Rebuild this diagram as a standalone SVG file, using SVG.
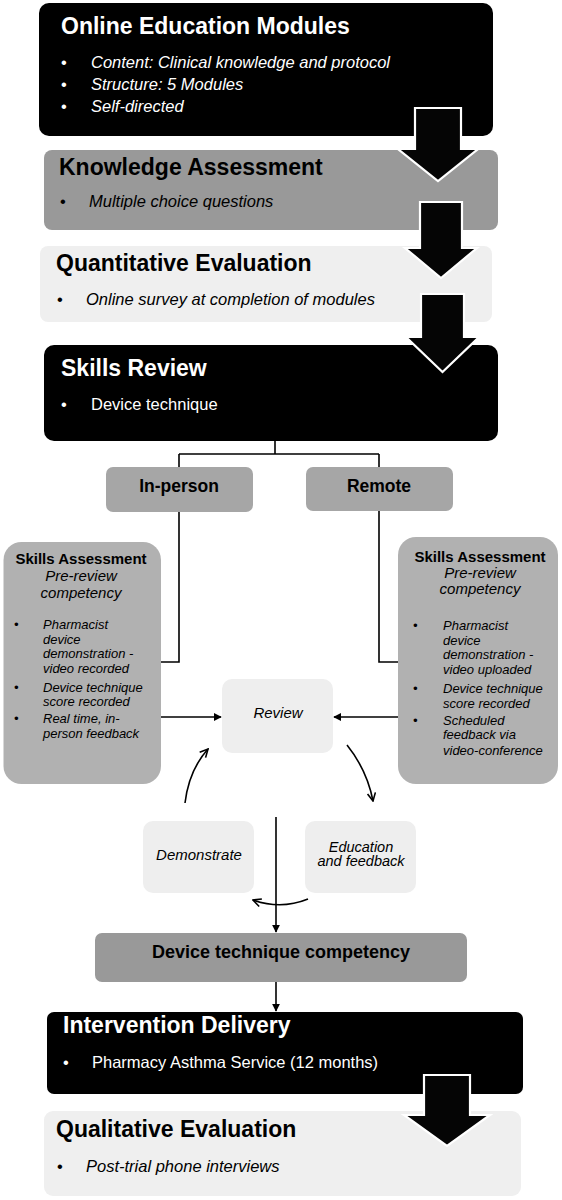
<svg xmlns="http://www.w3.org/2000/svg" width="562" height="1200" viewBox="0 0 562 1200">
<defs>
<style>
text{font-family:"Liberation Sans",Arial,sans-serif;}
.t{font-size:23px;font-weight:bold;}
.b{font-size:16.5px;font-style:italic;}
.r{font-size:16.5px;}
.w{fill:#fff;}
.k{fill:#000;}
.sb{font-size:15px;font-weight:bold;}
.si{font-size:15px;font-style:italic;}
.s{font-size:13px;font-style:italic;}
.lab{font-size:17.5px;font-weight:bold;}
.ln{fill:none;stroke:#000;stroke-width:1.6;}
.blk{fill:#050505;stroke:#fff;stroke-width:2.2;stroke-linejoin:miter;}
</style>
<marker id="tri" viewBox="0 0 10 10" refX="9" refY="5" markerWidth="8" markerHeight="8" markerUnits="userSpaceOnUse" orient="auto">
<path d="M0,0 L10,5 L0,10 z" fill="#000"/>
</marker>
<marker id="open" viewBox="0 0 10 10" refX="9" refY="5" markerWidth="10" markerHeight="10" markerUnits="userSpaceOnUse" orient="auto">
<path d="M1,1 L9,5 L1,9" fill="none" stroke="#000" stroke-width="1.6"/>
</marker>
</defs>
<rect width="562" height="1200" fill="#fff"/>

<g id="online-education">
<rect x="39" y="3" width="454" height="133" rx="10" fill="#000"/>
<text class="t w" x="61" y="34">Online Education Modules</text>
<text class="r w" x="61" y="68">•</text><text class="b w" x="91" y="68">Content: Clinical knowledge and protocol</text>
<text class="r w" x="61" y="90">•</text><text class="b w" x="91" y="90">Structure: 5 Modules</text>
<text class="r w" x="61" y="112">•</text><text class="b w" x="91" y="112">Self-directed</text>
</g>

<g id="knowledge-assessment">
<rect x="44" y="150" width="454" height="80" rx="8" fill="#999"/>
<text class="t k" x="59" y="175">Knowledge Assessment</text>
<text class="r k" x="60" y="207">•</text><text class="b k" x="89" y="207">Multiple choice questions</text>
</g>

<g id="quantitative-evaluation">
<rect x="40" y="246" width="452" height="76" rx="8" fill="#efefef"/>
<text class="t k" x="56" y="271">Quantitative Evaluation</text>
<text class="r k" x="57" y="305">•</text><text class="b k" x="86" y="305">Online survey at completion of modules</text>
</g>

<g id="skills-review">
<rect x="44" y="345" width="454" height="96" rx="10" fill="#000"/>
<text class="t w" x="61" y="376">Skills Review</text>
<text class="r w" x="61" y="410">•</text><text class="r w" x="91" y="410">Device technique</text>
</g>

<g id="in-person">
<rect x="106" y="467" width="147" height="45" rx="7" fill="#a6a6a6"/>
<text class="lab k" x="179" y="492" text-anchor="middle">In-person</text>
</g>

<g id="remote">
<rect x="306" y="467" width="147" height="44" rx="7" fill="#a6a6a6"/>
<text class="lab k" x="379" y="492" text-anchor="middle">Remote</text>
</g>

<g id="skills-assessment-left">
<rect x="3.5" y="542" width="157.5" height="242" rx="18" fill="#b1b1b1"/>
<text class="sb k" x="81" y="564" text-anchor="middle">Skills Assessment</text>
<text class="si k" x="81" y="581" text-anchor="middle">Pre-review</text>
<text class="si k" x="81" y="598" text-anchor="middle">competency</text>
<text class="s k" x="14" y="629">•</text><text class="s k" x="43" y="629">Pharmacist</text>
<text class="s k" x="43" y="644">device</text>
<text class="s k" x="43" y="658">demonstration -</text>
<text class="s k" x="43" y="673">video recorded</text>
<text class="s k" x="14" y="692">•</text><text class="s k" x="43" y="692">Device technique</text>
<text class="s k" x="43" y="706">score recorded</text>
<text class="s k" x="14" y="723">•</text><text class="s k" x="43" y="723">Real time, in-</text>
<text class="s k" x="43" y="738">person feedback</text>
</g>

<g id="skills-assessment-right">
<rect x="398" y="537" width="160" height="247" rx="18" fill="#b1b1b1"/>
<text class="sb k" x="480" y="562" text-anchor="middle">Skills Assessment</text>
<text class="si k" x="480" y="578" text-anchor="middle">Pre-review</text>
<text class="si k" x="480" y="594" text-anchor="middle">competency</text>
<text class="s k" x="413" y="630">•</text><text class="s k" x="443" y="630">Pharmacist</text>
<text class="s k" x="443" y="645">device</text>
<text class="s k" x="443" y="659">demonstration -</text>
<text class="s k" x="443" y="674">video uploaded</text>
<text class="s k" x="413" y="693">•</text><text class="s k" x="443" y="693">Device technique</text>
<text class="s k" x="443" y="708">score recorded</text>
<text class="s k" x="413" y="725">•</text><text class="s k" x="443" y="725">Scheduled</text>
<text class="s k" x="443" y="739">feedback via</text>
<text class="s k" x="443" y="755">video-conference</text>
</g>

<g id="review">
<rect x="222" y="679" width="111" height="74" rx="10" fill="#eeeeee"/>
<text class="si k" x="278" y="718" text-anchor="middle">Review</text>
</g>

<g id="demonstrate">
<rect x="143" y="821" width="111" height="72" rx="10" fill="#eeeeee"/>
<text class="si k" x="199" y="860" text-anchor="middle">Demonstrate</text>
</g>

<g id="education-feedback">
<rect x="305" y="821" width="111" height="72" rx="10" fill="#eeeeee"/>
<text class="si k" x="361" y="852" text-anchor="middle" style="font-size:14.5px">Education</text>
<text class="si k" x="361" y="866" text-anchor="middle" style="font-size:14.5px">and feedback</text>
</g>

<g id="device-competency">
<rect x="95" y="933" width="372" height="49" rx="7" fill="#999"/>
<text class="lab k" x="281" y="958" text-anchor="middle" style="font-size:18px">Device technique competency</text>
</g>

<g id="intervention-delivery">
<rect x="47" y="1012" width="476" height="82" rx="7" fill="#000"/>
<text class="t w" x="63" y="1033">Intervention Delivery</text>
<text class="r w" x="63" y="1068">•</text><text class="r w" x="92" y="1068">Pharmacy Asthma Service (12 months)</text>
</g>

<g id="qualitative-evaluation">
<rect x="44" y="1111" width="477" height="85" rx="9" fill="#efefef"/>
<text class="t k" x="56" y="1137">Qualitative Evaluation</text>
<text class="r k" x="57" y="1172">•</text><text class="b k" x="86" y="1172">Post-trial phone interviews</text>
</g>

<g id="connectors">
<polygon class="blk" points="415,108 461,108 461,149 478,149 438,181 398,149 415,149"/>
<polygon class="blk" points="420,202 462,202 462,248 477,248 441,278 405,248 420,248"/>
<polygon class="blk" points="421,294 464,294 464,337 479,337 442.5,372 406,337 421,337"/>
<polygon class="blk" points="424,1075 470,1075 470,1115 490,1115 447,1146 404,1115 424,1115"/>
<path class="ln" d="M275,441 V454 M179,454 H379"/>
<path class="ln" d="M179,454 V467 M379,454 V467"/>
<path class="ln" d="M179,512 V662 H161"/>
<path class="ln" d="M379,511 V662 H398"/>
<path class="ln" d="M161,717 H221" marker-end="url(#tri)"/>
<path class="ln" d="M398,717 H334" marker-end="url(#tri)"/>
<path class="ln" d="M185,803 Q189,770 208,749" marker-end="url(#open)"/>
<path class="ln" d="M347,745 Q367,770 373,801" marker-end="url(#open)"/>
<path class="ln" d="M308,899 Q281,910 253,900" marker-end="url(#open)"/>
<path class="ln" d="M276,817 V932" marker-end="url(#tri)"/>
<path class="ln" d="M276,982 V1011" marker-end="url(#tri)"/>
</g>
</svg>
